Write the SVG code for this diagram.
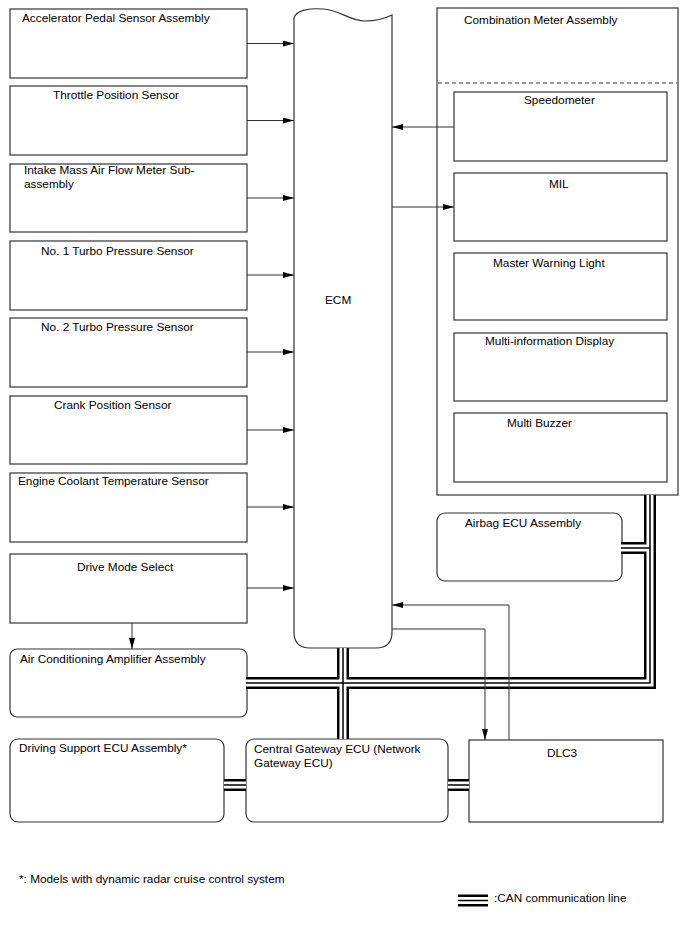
<svg xmlns="http://www.w3.org/2000/svg" width="688" height="949" viewBox="0 0 688 949">
<style>
.box{fill:#fff;stroke:#333;stroke-width:1.2}
.t{font-family:"Liberation Sans",Arial,sans-serif;font-size:11.8px;fill:#000}
.ln{fill:none;stroke:#333;stroke-width:1}
.c1{fill:none;stroke:#000;stroke-width:12}
.c2{fill:none;stroke:#fff;stroke-width:7}
.c3{fill:none;stroke:#000;stroke-width:1.5}
.dash{stroke:#333;stroke-width:1;stroke-dasharray:4,3}
</style>
<defs>
<marker id="ah" markerUnits="userSpaceOnUse" markerWidth="12" markerHeight="7" refX="11" refY="3" orient="auto">
<path d="M0,0 L11,3 L0,6 z" fill="#000"/>
</marker>
</defs>
<rect width="688" height="949" fill="#fff"/>

<g id="ecm">
  <path class="box" d="M294,18 C296,10 310,8 323,9 C340,10 350,21 365,21 C378,21 388,17 392,15 V632 Q392,648 376,648 H310 Q294,648 294,632 Z"/>
  <text class="t" x="325" y="304">ECM</text>
</g>

<g id="n1"><rect class="box" x="10" y="9" width="237" height="69"/><text class="t" x="22" y="22">Accelerator Pedal Sensor Assembly</text></g>
<g id="n2"><rect class="box" x="10" y="86" width="237" height="69"/><text class="t" x="53" y="99">Throttle Position Sensor</text></g>
<g id="n3"><rect class="box" x="10" y="164" width="237" height="68"/><text class="t" x="24" y="174">Intake Mass Air Flow Meter Sub-</text><text class="t" x="24" y="188">assembly</text></g>
<g id="n4"><rect class="box" x="10" y="241" width="237" height="69"/><text class="t" x="41" y="255">No. 1 Turbo Pressure Sensor</text></g>
<g id="n5"><rect class="box" x="10" y="318" width="237" height="69"/><text class="t" x="41" y="331">No. 2 Turbo Pressure Sensor</text></g>
<g id="n6"><rect class="box" x="10" y="396" width="237" height="68"/><text class="t" x="54" y="409">Crank Position Sensor</text></g>
<g id="n7"><rect class="box" x="10" y="473" width="237" height="69"/><text class="t" x="18" y="485">Engine Coolant Temperature Sensor</text></g>
<g id="n8"><rect class="box" x="10" y="554" width="237" height="69"/><text class="t" x="77" y="571">Drive Mode Select</text></g>
<g id="n9"><rect class="box" x="10" y="649" width="237" height="68" rx="7"/><text class="t" x="20" y="663">Air Conditioning Amplifier Assembly</text></g>
<g id="n10"><rect class="box" x="10" y="739" width="214" height="83" rx="8"/><text class="t" x="19" y="752">Driving Support ECU Assembly*</text></g>
<g id="n11"><rect class="box" x="246" y="739" width="202" height="83" rx="8"/><text class="t" x="254" y="753">Central Gateway ECU (Network</text><text class="t" x="254" y="767">Gateway ECU)</text></g>
<g id="n12"><rect class="box" x="469" y="740" width="194" height="82"/><text class="t" x="547" y="757">DLC3</text></g>
<g id="n13"><rect class="box" x="437" y="513" width="185" height="68" rx="8"/><text class="t" x="465" y="527">Airbag ECU Assembly</text></g>

<g id="combo">
  <rect class="box" x="437" y="8" width="241" height="487"/>
  <text class="t" x="464" y="24">Combination Meter Assembly</text>
  <line class="dash" x1="438" y1="83" x2="677" y2="83"/>
  <g id="speedo"><rect class="box" x="454" y="92" width="213" height="69"/><text class="t" x="524" y="104">Speedometer</text></g>
  <g id="mil"><rect class="box" x="454" y="173" width="213" height="68"/><text class="t" x="549" y="188">MIL</text></g>
  <g id="mwl"><rect class="box" x="454" y="253" width="213" height="67"/><text class="t" x="493" y="267">Master Warning Light</text></g>
  <g id="mid"><rect class="box" x="454" y="333" width="213" height="68"/><text class="t" x="485" y="345">Multi-information Display</text></g>
  <g id="mb"><rect class="box" x="454" y="413" width="213" height="69"/><text class="t" x="507" y="427">Multi Buzzer</text></g>
</g>

<g id="connectors">
  <g id="can">
    <path class="c1" d="M246,683 H650 V495 M621,548 H650 M343,648 V739 M224,785 H246 M448,785 H469"/>
    <path class="c2" d="M246,683 H650 V495 M621,548 H650 M343,648 V739 M224,785 H246 M448,785 H469"/>
    <path class="c3" d="M246,683 H650 V495 M621,548 H650 M343,648 V739 M224,785 H246 M448,785 H469"/>
  </g>
  <path class="ln" d="M247,43.5 H294" marker-end="url(#ah)"/>
  <path class="ln" d="M247,120.5 H294" marker-end="url(#ah)"/>
  <path class="ln" d="M247,198 H294" marker-end="url(#ah)"/>
  <path class="ln" d="M247,275 H294" marker-end="url(#ah)"/>
  <path class="ln" d="M247,352 H294" marker-end="url(#ah)"/>
  <path class="ln" d="M247,430 H294" marker-end="url(#ah)"/>
  <path class="ln" d="M247,507 H294" marker-end="url(#ah)"/>
  <path class="ln" d="M247,588 H294" marker-end="url(#ah)"/>
  <path class="ln" d="M132,623 V649" marker-end="url(#ah)"/>
  <path class="ln" d="M454,127 H392" marker-end="url(#ah)"/>
  <path class="ln" d="M392,207 H454" marker-end="url(#ah)"/>
  <path class="ln" d="M392,629 H485 V740" marker-end="url(#ah)"/>
  <path class="ln" d="M509,740 V605 H392" marker-end="url(#ah)"/>
</g>

<text class="t" x="19" y="883">*: Models with dynamic radar cruise control system</text>
<g id="legend">
  <path class="c1" d="M458,900.5 H488"/>
  <path class="c2" d="M458,900.5 H488"/>
  <path class="c3" d="M458,900.5 H488"/>
  <text class="t" x="494" y="902">:CAN communication line</text>
</g>
</svg>
